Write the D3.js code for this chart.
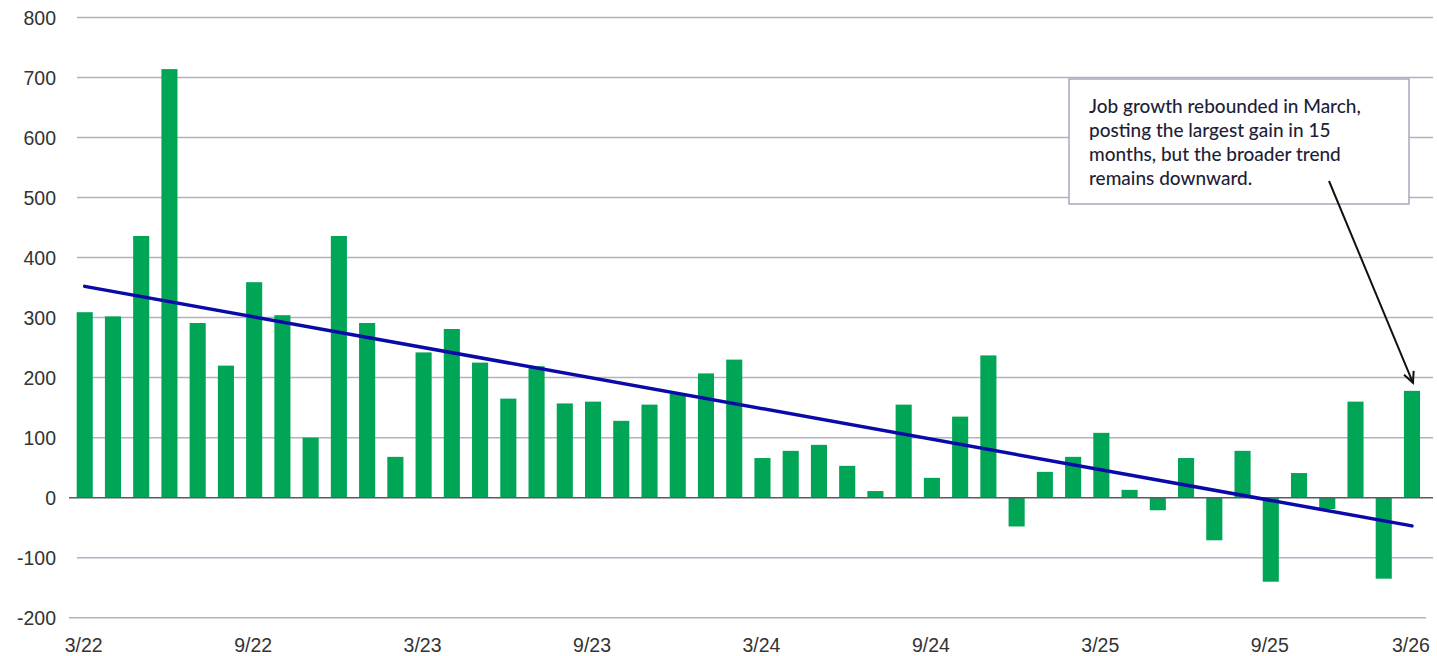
<!DOCTYPE html>
<html>
<head>
<meta charset="utf-8">
<script src="https://cdn.jsdelivr.net/npm/d3@7"></script>
<style>
  html, body { margin: 0; padding: 0; background: #ffffff; }
  svg { display: block; }
</style>
</head>
<body>
<svg id="chart" width="1437" height="656"></svg>
<script>
// Monthly change in nonfarm payrolls (thousands), April 2022 through March 2026
const months = [
  "4/22","5/22","6/22","7/22","8/22","9/22","10/22","11/22","12/22","1/23","2/23","3/23",
  "4/23","5/23","6/23","7/23","8/23","9/23","10/23","11/23","12/23","1/24","2/24","3/24",
  "4/24","5/24","6/24","7/24","8/24","9/24","10/24","11/24","12/24","1/25","2/25","3/25",
  "4/25","5/25","6/25","7/25","8/25","9/25","10/25","11/25","12/25","1/26","2/26","3/26"
];
const payrollChange = [
  309, 302, 436, 714, 291, 220, 359, 304, 100, 436, 291, 68,
  242, 281, 225, 165, 219, 157, 160, 128, 155, 173, 207, 230,
  66, 78, 88, 53, 11, 155, 33, 135, 237, -48, 43, 68,
  108, 13, -21, 66, -71, 78, -140, 41, -19, 160, -135, 178
];

// Linear trend: value at the first and at the last month
const trendMonths = ["4/22", "3/26"];
const trendValues = [352, -47];

// Axis labels
const yTicks = [-200, -100, 0, 100, 200, 300, 400, 500, 600, 700, 800];
const xTickMonths = ["4/22","10/22","4/23","10/23","4/24","10/24","4/25","10/25","3/26"];
const xTickLabels = ["3/22","9/22","3/23","9/23","3/24","9/24","3/25","9/25","3/26"];

const noteLines = [
  "Job growth rebounded in March,",
  "posting the largest gain in 15",
  "months, but the broader trend",
  "remains downward."
];

const svg = d3.select("#chart");

const x = d3.scaleBand()
  .domain(months)
  .range([70.6, 1426.1])
  .paddingInner(0.43)
  .paddingOuter(0.215);

const y = d3.scaleLinear()
  .domain([-200, 800])
  .range([617.7, 17.5]);

const cx = m => x(m) + x.bandwidth() / 2;

// Horizontal grid lines
svg.append("g")
  .selectAll("line")
  .data(yTicks.filter(t => t !== 0))
  .join("line")
  .attr("x1", d => d === -200 ? 69 : 77)
  .attr("x2", d => d === -200 ? 1426 : 1433)
  .attr("y1", d => y(d))
  .attr("y2", d => y(d))
  .attr("stroke", "#b3b1c2")
  .attr("stroke-width", 1.5);

// Y axis labels
svg.append("g")
  .selectAll("text")
  .data(yTicks)
  .join("text")
  .attr("x", 56)
  .attr("y", d => y(d) + 7.5)
  .attr("text-anchor", "end")
  .attr("font-family", "Liberation Sans, Arial, sans-serif")
  .attr("font-size", 19.5)
  .attr("fill", "#333")
  .text(d => d);

// Bars
svg.append("g")
  .selectAll("rect")
  .data(payrollChange)
  .join("rect")
  .attr("x", (d, i) => x(months[i]))
  .attr("width", x.bandwidth())
  .attr("y", d => y(Math.max(0, d)))
  .attr("height", d => Math.abs(y(d) - y(0)))
  .attr("fill", "#00a555");

// Zero baseline
svg.append("line")
  .attr("x1", 69).attr("x2", 1433)
  .attr("y1", y(0)).attr("y2", y(0))
  .attr("stroke", "#5a5a66")
  .attr("stroke-width", 1.5);

// Trend line
svg.append("path")
  .attr("d", d3.line()(trendMonths.map((m, i) => [cx(m), y(trendValues[i])])))
  .attr("fill", "none")
  .attr("stroke", "#0a0aa8")
  .attr("stroke-width", 3.5)
  .attr("stroke-linecap", "round");

// X axis labels
svg.append("g")
  .selectAll("text")
  .data(xTickMonths)
  .join("text")
  .attr("x", d => cx(d) - 1)
  .attr("y", 652)
  .attr("text-anchor", "middle")
  .attr("font-family", "Liberation Sans, Arial, sans-serif")
  .attr("font-size", 19.5)
  .attr("fill", "#333")
  .text((d, i) => xTickLabels[i]);

// Callout box
const note = svg.append("g");
note.append("rect")
  .attr("x", 1069).attr("y", 79)
  .attr("width", 340).attr("height", 125)
  .attr("fill", "#fff")
  .attr("stroke", "#a9a8b8")
  .attr("stroke-width", 1.5);

note.selectAll("text")
  .data(noteLines)
  .join("text")
  .attr("x", 1089)
  .attr("y", (d, i) => 112.5 + i * 24)
  .attr("font-family", "Lato, sans-serif")
  .attr("font-size", 19)
  .attr("font-weight", 500)
  .attr("fill", "#1f1f3a")
  .text(d => d);

// Arrow to the latest month
const n = payrollChange.length;
const last = months[n - 1];
const tip = [cx(last) + 1, y(payrollChange[n - 1]) - 8];
const start = [1329, 181];
const ang = Math.atan2(tip[1] - start[1], tip[0] - start[0]);
const headLen = 12, spread = 0.45;
const h1 = [tip[0] - headLen * Math.cos(ang - spread), tip[1] - headLen * Math.sin(ang - spread)];
const h2 = [tip[0] - headLen * Math.cos(ang + spread), tip[1] - headLen * Math.sin(ang + spread)];

note.append("path")
  .attr("d", d3.line()([start, tip]))
  .attr("stroke", "#111")
  .attr("stroke-width", 2)
  .attr("fill", "none");
note.append("path")
  .attr("d", d3.line()([h1, tip, h2]))
  .attr("stroke", "#111")
  .attr("stroke-width", 2)
  .attr("fill", "none")
  .attr("stroke-linejoin", "miter");
</script>
</body>
</html>
